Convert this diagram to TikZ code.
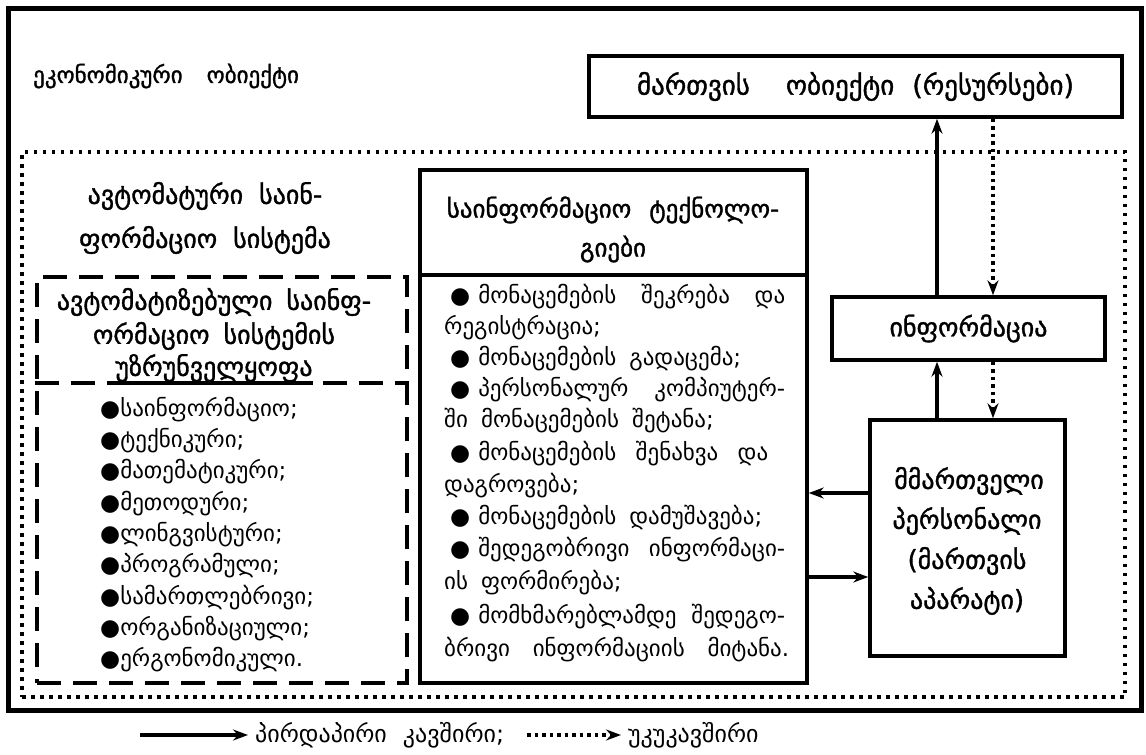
\documentclass[tikz,border=0pt]{standalone}
\usepackage{fontspec}
\setmainfont{DejaVu Sans}
\newfontfamily\headfont[FakeBold=1.3]{DejaVu Sans}
\usetikzlibrary{arrows.meta,calc}

% body text with wide, stretchable word spaces
\newcommand\bodyfont{\fontsize{23}{27}\selectfont\spaceskip 13pt plus 60pt\relax}
\newcommand\legfont{\fontsize{24}{28}\selectfont\spaceskip 16pt\relax}
\newcommand\hdfont{\fontsize{26}{30}\selectfont\headfont}

\tikzset{
  frame/.style={draw, line width=5pt, inner sep=0pt},
  box/.style={draw, line width=3.5pt, inner sep=0pt, align=center},
  dotbox/.style={draw, line width=3.5pt, dash pattern=on 3.5pt off 5.5pt, inner sep=0pt},
  dashbox/.style={draw, line width=3.5pt, dash pattern=on 24pt off 12pt, inner sep=0pt},
  head/.style={inner sep=0pt, font=\hdfont},
  body/.style={inner sep=0pt, anchor=west, font=\bodyfont},
  tipS/.tip={Stealth[length=15pt, width=11pt, inset=5pt]},
  conn/.style={line width=3.5pt, -tipS},
  fb/.style={line width=3.5pt, dash pattern=on 3.5pt off 4pt, -tipS},
}

\begin{document}
\begin{tikzpicture}[x=1pt, y=-1pt]
\useasboundingbox (0,0) rectangle (1146,755);

% frames
\node[frame, minimum width=1133pt, minimum height=702pt] (outer) at (574.5,359) {};
\node[dotbox, minimum width=1103pt, minimum height=545pt] (ais) at (573.5,424.5) {};
\node[dashbox, minimum width=370pt, minimum height=406pt] (sup) at (222,480) {};

% boxes
\node[box, minimum width=533pt, minimum height=61pt, font=\fontsize{27}{31}\selectfont\headfont]
  (res) at (855.5,86.5) {მართვის\hspace{36pt}ობიექტი\hspace{18pt}(რესურსები)};
\node[box, minimum width=387pt, minimum height=513pt] (tech) at (613.5,426.5) {};
\node[box, minimum width=273pt, minimum height=63pt, font=\hdfont]
  (info) at (968.5,328.5) {ინფორმაცია};
\node[box, minimum width=195pt, minimum height=236pt] (staff) at (967.5,538) {};

% headings
\node[head, anchor=west, font=\fontsize{23}{27}\selectfont\headfont] (eco) at (33,76)
  {ეკონომიკური\hspace{24pt}ობიექტი};
\node[head] (ais1) at (205,196) {ავტომატური\hspace{16pt}საინ-};
\node[head] (ais2) at (205,240) {ფორმაციო\hspace{16pt}სისტემა};
\node[head] (sup1) at (214,302) {ავტომატიზებული\hspace{14pt}საინფ-};
\node[head] (sup2) at (214,336) {ორმაციო\hspace{14pt}სისტემის};
\node[head] (sup3) at (214,368) {უზრუნველყოფა};
\node[head, font=\fontsize{25}{29}\selectfont\headfont] (tech1) at (613,210)
  {საინფორმაციო\hspace{18pt}ტექნოლო-};
\node[head, font=\fontsize{25}{29}\selectfont\headfont] (tech2) at (613,249) {გიები};
\node[head] (st1) at (969,481) {მმართველი};
\node[head] (st2) at (967,521) {პერსონალი};
\node[head] (st3) at (967,561) {(მართვის};
\node[head] (st4) at (967,601) {აპარატი)};

% separators (solid under the underlined heading word)
\coordinate (sepT) at (0,275);
\coordinate (sepS) at (0,383);
\draw[line width=3.5pt] (tech.west |- sepT) -- (tech.east |- sepT);
\draw[line width=3.5pt, dash pattern=on 24pt off 12pt] (sup.west |- sepS) -- (sup.east |- sepS);
\draw[line width=3.5pt] (sup3.west |- sepS) -- (sup3.east |- sepS);

% support list
\node[body] (s1) at (100,410) {●საინფორმაციო;};
\node[body] (s2) at (100,441) {●ტექნიკური;};
\node[body] (s3) at (100,472) {●მათემატიკური;};
\node[body] (s4) at (100,504) {●მეთოდური;};
\node[body] (s5) at (100,535) {●ლინგვისტური;};
\node[body] (s6) at (100,566) {●პროგრამული;};
\node[body] (s7) at (100,598) {●სამართლებრივი;};
\node[body] (s8) at (100,629) {●ორგანიზაციული;};
\node[body] (s9) at (100,660) {●ერგონომიკული.};

% technology list
\node[body] (t1)  at (450,297) {\makebox[335pt][s]{●\hspace{8pt}მონაცემების შეკრება და}};
\node[body] (t2)  at (444,328) {რეგისტრაცია;};
\node[body] (t3)  at (450,359) {●\hspace{8pt}მონაცემების გადაცემა;};
\node[body] (t4)  at (450,390) {\makebox[335pt][s]{●\hspace{8pt}პერსონალურ კომპიუტერ-}};
\node[body] (t5)  at (444,421) {ში მონაცემების შეტანა;};
\node[body] (t6)  at (450,454) {\makebox[318pt][s]{●\hspace{8pt}მონაცემების შენახვა და}};
\node[body] (t7)  at (444,486) {დაგროვება;};
\node[body] (t8)  at (450,518) {●\hspace{8pt}მონაცემების დამუშავება;};
\node[body] (t9)  at (450,550) {\makebox[335pt][s]{●\hspace{8pt}შედეგობრივი ინფორმაცი-}};
\node[body] (t10) at (444,583) {ის ფორმირება;};
\node[body] (t11) at (450,617) {\makebox[335pt][s]{●\hspace{8pt}მომხმარებლამდე შედეგო-}};
\node[body] (t12) at (444,650) {\makebox[345pt][s]{ბრივი ინფორმაციის მიტანა.}};

% connectors
\coordinate (up) at (937,0);
\coordinate (down) at (993,0);
\coordinate (leftA) at (0,493);
\coordinate (rightA) at (0,577);
\draw[conn] (info.north -| up) -- (res.south -| up);
\draw[fb] (res.south -| down) -- (info.north -| down);
\draw[conn] (staff.north -| up) -- (info.south -| up);
\draw[fb] (info.south -| down) -- (staff.north -| down);
\draw[conn] (staff.west |- leftA) -- (tech.east |- leftA);
\draw[conn] (tech.east |- rightA) -- (staff.west |- rightA);

% legend
\coordinate (lgA) at (140,735);
\coordinate (lgB) at (527,735);
\node[body, inner xsep=7pt, font=\legfont] (lg1) at (248,735) {პირდაპირი კავშირი;};
\node[body, inner xsep=7pt, font=\legfont] (lg2) at (621,735) {უკუკავშირი};
\draw[conn] (lgA) -- (lg1.west);
\draw[fb] (lgB) -- (lg2.west);
\end{tikzpicture}
\end{document}
